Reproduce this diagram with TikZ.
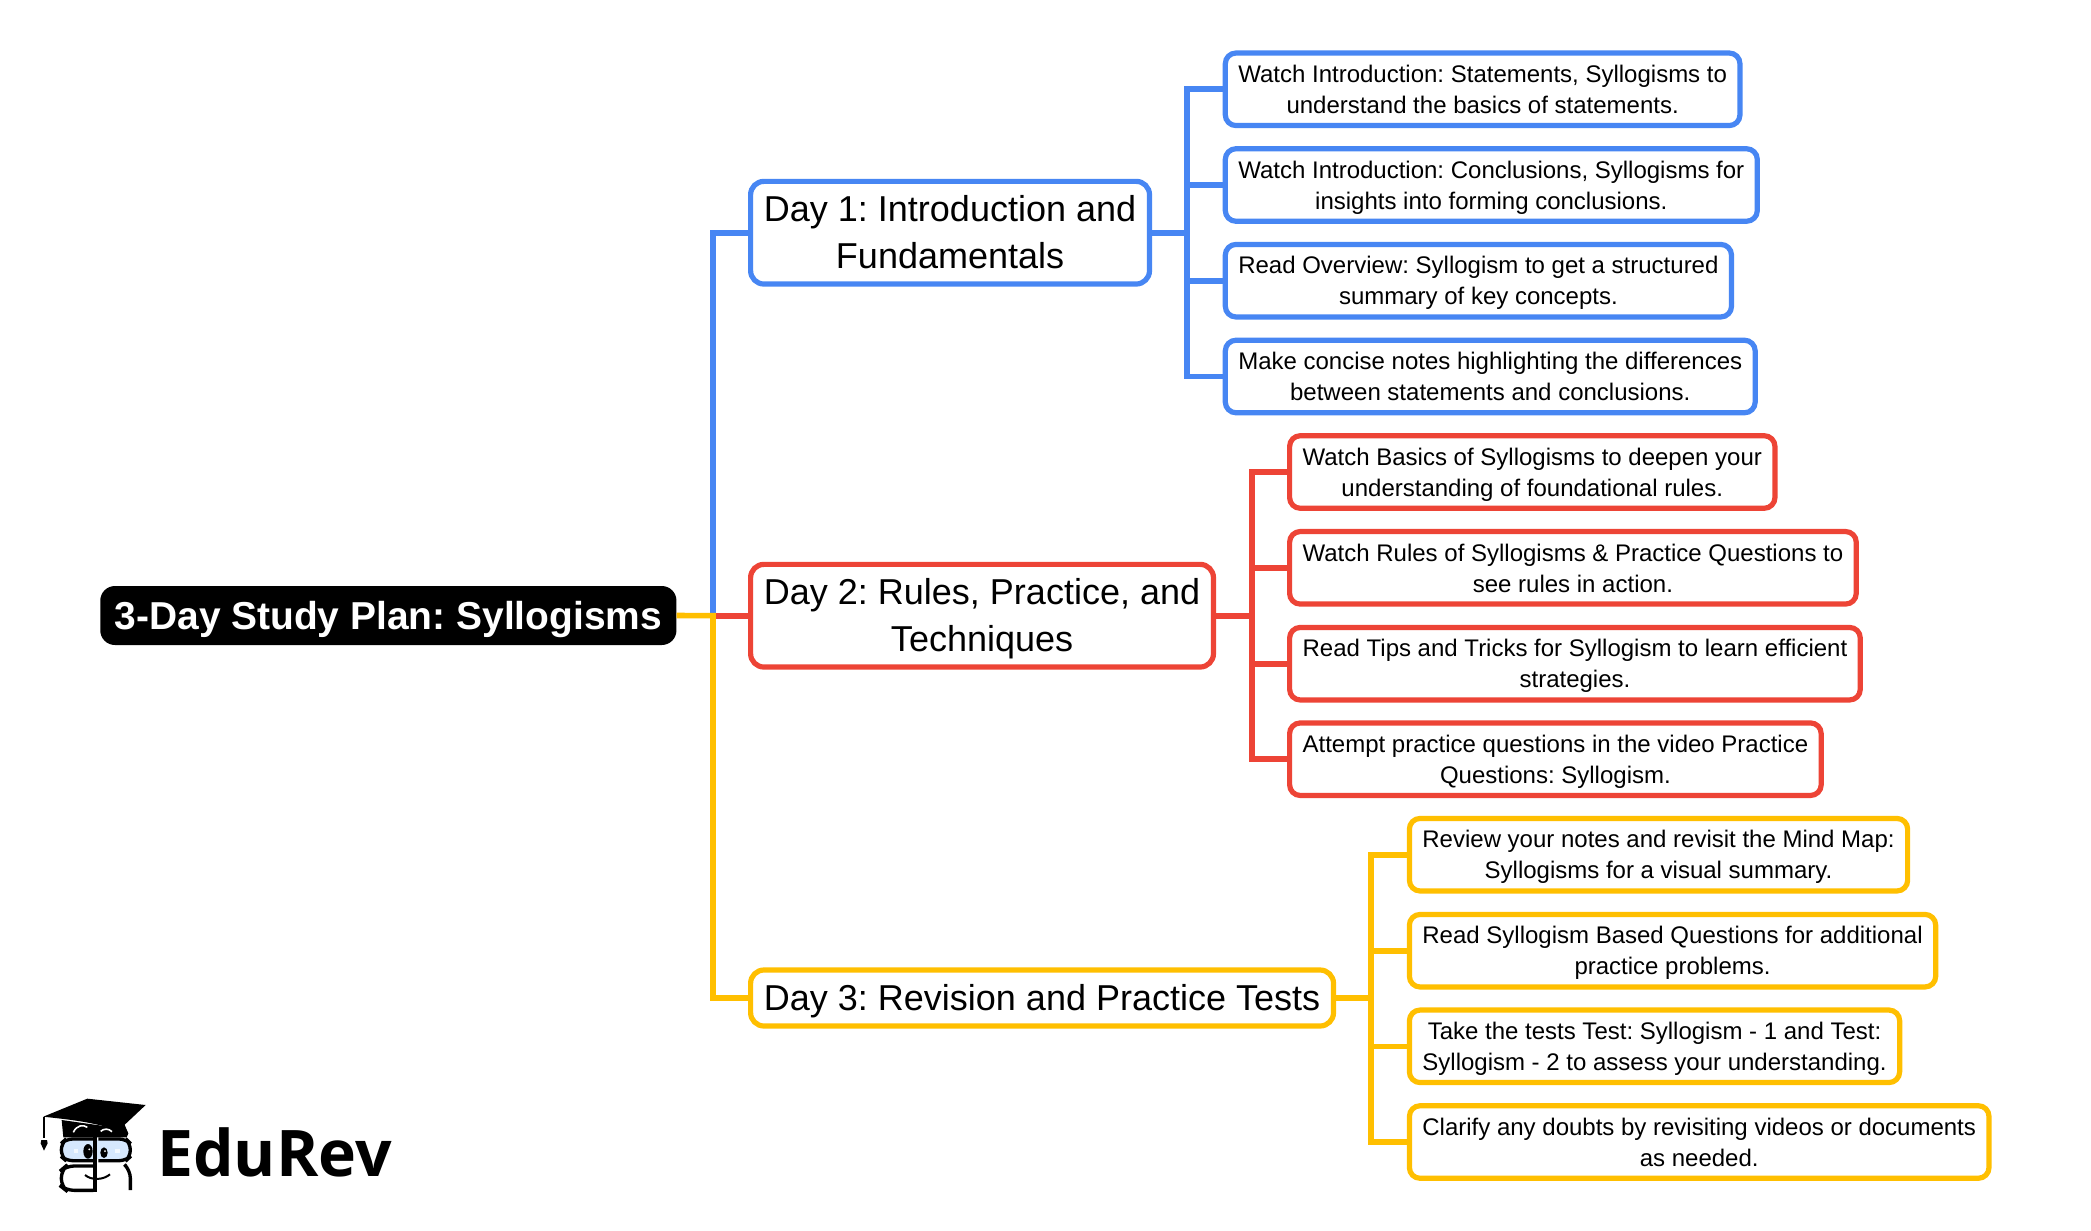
\documentclass[tikz,border=0pt]{standalone}
\usepackage{fontspec}
\setmainfont{Liberation Sans}
\newfontfamily\logofont{Open Sans}
\frenchspacing
\definecolor{dayblue}{HTML}{4786F3}
\definecolor{dayred}{HTML}{ED4436}
\definecolor{dayyellow}{HTML}{FFBF00}
\definecolor{glasslens}{HTML}{D6E8FD}
\tikzset{
    rootbox/.style={fill=black,text=white,rounded corners=11pt,inner xsep=10.8pt,inner ysep=0pt,
        minimum height=44.25pt,text height=24.5pt,text depth=4pt,anchor=west,font=\fontsize{29.2}{34}\selectfont\bfseries},
    daybox/.style={draw=#1,fill=white,line width=3.9pt,rounded corners=10pt,inner xsep=10pt,inner ysep=0pt,
        anchor=west,align=center,font=\fontsize{27}{35.5}\selectfont},
    leafbox/.style={draw=#1,fill=white,line width=3.9pt,rounded corners=8pt,inner xsep=9.75pt,inner ysep=0pt,
        minimum height=54.4pt,anchor=west,align=center,font=\fontsize{18}{23.25}\selectfont},
    link/.style={draw=#1,line width=4.2pt,miter limit=10}
}
\begin{document}
\begin{tikzpicture}[x=0.75pt,y=-0.75pt]
    \useasboundingbox (0,0) rectangle (2091,1231);
    \node[rootbox] (root) at (100,615.5) {3-Day Study Plan: Syllogisms};
    % day boxes
    \node[daybox=dayblue,minimum height=77pt] (day1) at (748,232.7) {Day 1: Introduction and\\\smash{Fundamentals}\rule[-1pt]{0pt}{0pt}};
    \node[daybox=dayred,minimum height=77pt] (day2) at (748,615.7) {Day 2: Rules, Practice, and\\\smash{Techniques}\rule[-1pt]{0pt}{0pt}};
    \node[daybox=dayyellow,minimum height=42pt,text height=23.8pt,text depth=5pt] (day3) at (748,998) {Day 3: Revision and Practice Tests};
    % day 1 tasks
    \node[leafbox=dayblue] (blueA) at (1222.7,89.3) {Watch Introduction: Statements, Syllogisms to\\\smash{understand the basics of statements.}};
    \node[leafbox=dayblue] (blueB) at (1222.7,185) {Watch Introduction: Conclusions, Syllogisms for\\\smash{insights into forming conclusions.}};
    \node[leafbox=dayblue] (blueC) at (1222.7,280.7) {Read Overview: Syllogism to get a structured\\\smash{summary of key concepts.}};
    \node[leafbox=dayblue] (blueD) at (1222.7,376.5) {Make concise notes highlighting the differences\\\smash{between statements and conclusions.}};
    % day 2 tasks
    \node[leafbox=dayred] (redA) at (1287,472) {Watch Basics of Syllogisms to deepen your\\\smash{understanding of foundational rules.}};
    \node[leafbox=dayred] (redB) at (1287,567.8) {Watch Rules of Syllogisms \& Practice Questions to\\\smash{see rules in action.}};
    \node[leafbox=dayred] (redC) at (1287,663.7) {Read Tips and Tricks for Syllogism to learn efficient\\\smash{strategies.}};
    \node[leafbox=dayred] (redD) at (1287,759.2) {Attempt practice questions in the video Practice\\\smash{Questions: Syllogism.}};
    % day 3 tasks
    \node[leafbox=dayyellow] (yellowA) at (1406.8,854.7) {Review your notes and revisit the Mind Map:\\\smash{Syllogisms for a visual summary.}};
    \node[leafbox=dayyellow] (yellowB) at (1406.8,950.7) {Read Syllogism Based Questions for additional\\\smash{practice problems.}};
    \node[leafbox=dayyellow] (yellowC) at (1406.8,1046.3) {Take the tests Test: Syllogism - 1 and Test:\\\smash{Syllogism - 2 to assess your understanding.}};
    \node[leafbox=dayyellow] (yellowD) at (1406.8,1142) {Clarify any doubts by revisiting videos or documents\\\smash{as needed.}};
    % hubs
    \coordinate (trunk) at (713,615.7);
    \coordinate (hubBlue) at (1187,232.7);
    \coordinate (hubRed) at (1252,615.7);
    \coordinate (hubYellow) at (1371,998);
    % connectors
    \draw[link=dayblue] (trunk) |- (day1.west);
    \draw[link=dayred] (trunk) -- (day2.west);
    \draw[link=dayyellow] (root.east) -- (trunk) |- (day3.west);
    \draw[link=dayblue] (day1.east) -- (hubBlue);
    \draw[link=dayblue] (blueA.west) -| (hubBlue) |- (blueD.west);
    \draw[link=dayblue] (hubBlue) |- (blueB.west);
    \draw[link=dayblue] (hubBlue) |- (blueC.west);
    \draw[link=dayred] (day2.east) -- (hubRed);
    \draw[link=dayred] (redA.west) -| (hubRed) |- (redD.west);
    \draw[link=dayred] (hubRed) |- (redB.west);
    \draw[link=dayred] (hubRed) |- (redC.west);
    \draw[link=dayyellow] (day3.east) -- (hubYellow);
    \draw[link=dayyellow] (yellowA.west) -| (hubYellow) |- (yellowD.west);
    \draw[link=dayyellow] (hubYellow) |- (yellowB.west);
    \draw[link=dayyellow] (hubYellow) |- (yellowC.west);
    % logo
    \node[anchor=base west,inner sep=0pt,font=\logofont\fontsize{48.2}{60}\selectfont\bfseries] (brand) at (157,1176.7) {EduRev};
    \begin{scope}[shift={(30,1090)},x=0.25pt,y=-0.25pt]
        \fill[glasslens] (95,150) rectangle (296,208);
        \draw[line width=2.5pt,rounded corners=5pt] (195,147) -- (108,147) -- (94,160) -- (94,200) -- (108,212) -- (190,212);
        \draw[line width=2.5pt,rounded corners=5pt] (205,147) -- (288,147) -- (301,160) -- (301,200) -- (288,212) -- (205,212);
        \draw[line width=2.5pt,rounded corners=6pt] (190,228) -- (108,228) -- (94,240) -- (94,290) -- (108,301) -- (190,301);
        \draw[line width=2.5pt,rounded corners=6pt] (288,228) -- (301,240) -- (301,300);
        \draw[line width=2.5pt] (195,140) -- (195,305);
        \fill (95,90) -- (250,112) -- (282,100) -- (295,130) -- (290,142) -- (100,142) -- cycle;
        \fill (40,80) -- (172,26) -- (347,45) -- (265,122) .. controls (190,95) and (110,88) .. (40,80) -- cycle;
        \draw[line width=1pt] (42,80) -- (42,145);
        \fill (34,150) -- (51,150) -- (53,160) -- (42,182) -- (32,160) -- cycle;
        \draw[white,line width=1.2pt] (130,127) .. controls (140,105) and (160,103) .. (172,112);
        \draw[white,line width=1.2pt] (212,124) .. controls (222,115) and (235,115) .. (246,125);
        \fill (174,184) ellipse (14 and 22);
        \fill (222,188) ellipse (11 and 16);
        \fill[white] (178,178) circle (3);
        \fill[white] (225,183) circle (3);
        \fill[white,opacity=.7] (131,178) rectangle (145,189);
        \fill[white,opacity=.7] (256,178) rectangle (270,189);
        \draw[line width=1.5pt] (165,255) .. controls (185,272) and (220,270) .. (240,253);
    \end{scope}
\end{tikzpicture}
\end{document}
